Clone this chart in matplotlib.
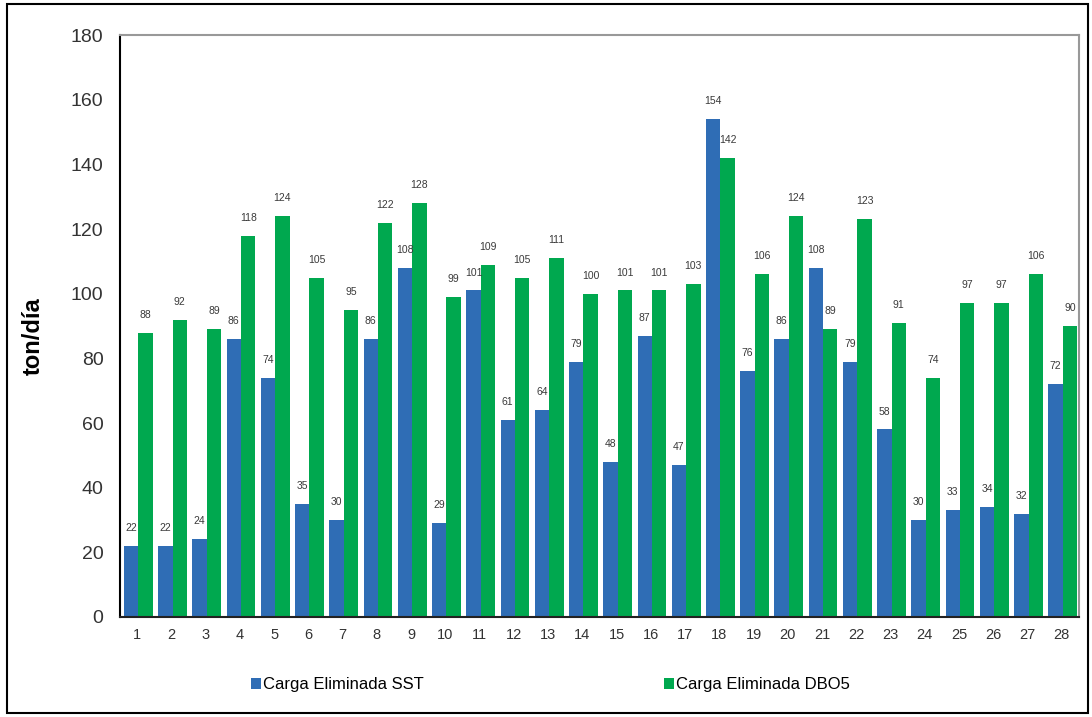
import numpy as np
import matplotlib.pyplot as plt
from matplotlib.patches import Rectangle

plt.rcParams['font.family'] = ['Liberation Sans', 'DejaVu Sans']

dias = [str(i) for i in range(1, 29)]
sst = [22, 22, 24, 86, 74, 35, 30, 86, 108, 29, 101, 61, 64, 79,
       48, 87, 47, 154, 76, 86, 108, 79, 58, 30, 33, 34, 32, 72]
dbo5 = [88, 92, 89, 118, 124, 105, 95, 122, 128, 99, 109, 105, 111, 100,
        101, 101, 103, 142, 106, 124, 89, 123, 91, 74, 97, 97, 106, 90]

azul = '#2f6db5'
verde = '#00a84f'

fig = plt.figure(figsize=(10.92, 7.17), dpi=100)
ax = fig.add_axes([0.110, 0.1395, 0.878, 0.8115])

x = np.arange(len(dias))
w = 0.42
b1 = ax.bar(x - w / 2 + 0.03, sst, w, color=azul, label='Carga Eliminada SST')
b2 = ax.bar(x + w / 2 + 0.03, dbo5, w, color=verde, label='Carga Eliminada DBO5')

# etiquetas de valor sobre cada barra
for bars in (b1, b2):
    for r in bars:
        h = r.get_height()
        ax.text(r.get_x() + r.get_width() / 2, h + 4, f"{h:.0f}",
                ha='center', va='bottom', fontsize=7.5, color='#3a3a3a')

ax.set_xlim(-0.5, len(dias) - 0.5)
ax.set_ylim(0, 180)
ax.set_yticks(range(0, 181, 20))
ax.set_xticks(x)
ax.set_xticklabels(dias)
ax.tick_params(axis='y', length=0, labelsize=14, pad=12, colors='#333333')
ax.tick_params(axis='x', length=0, labelsize=10.5, pad=8, colors='#333333')
ax.set_ylabel('ton/día', fontsize=17, fontweight='bold')
ax.yaxis.set_label_coords(-0.079, 0.483)

ax.spines['left'].set_color('black')
ax.spines['left'].set_linewidth(1.5)
ax.spines['bottom'].set_color('#222222')
ax.spines['bottom'].set_linewidth(1.5)
ax.spines['top'].set_color('#999999')
ax.spines['top'].set_linewidth(1.5)
ax.spines['right'].set_color('#999999')
ax.spines['right'].set_linewidth(1.5)

fig.legend(handles=[b1], loc='center left', bbox_to_anchor=(0.2165, 0.045),
           frameon=False, fontsize=12, handlelength=0.6, handleheight=0.6,
           handletextpad=0.1)
fig.legend(handles=[b2], loc='center left', bbox_to_anchor=(0.5945, 0.045),
           frameon=False, fontsize=12, handlelength=0.6, handleheight=0.6,
           handletextpad=0.1)

fig.add_artist(Rectangle((0.006, 0.006), 0.99, 0.989, transform=fig.transFigure,
                         fill=False, edgecolor='black', linewidth=1.5))

fig.savefig('out.png', dpi=100)
